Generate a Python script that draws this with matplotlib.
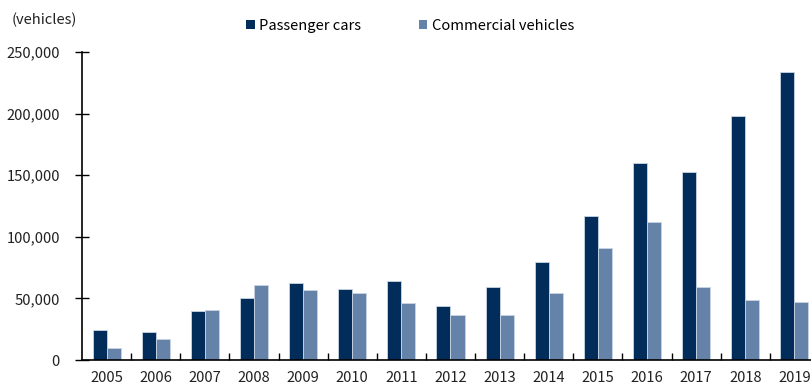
import matplotlib
matplotlib.use("Agg")
import matplotlib.pyplot as plt
import numpy as np
from matplotlib.patches import Patch
from matplotlib.ticker import FuncFormatter, MultipleLocator

years = ["2005", "2006", "2007", "2008", "2009", "2010", "2011", "2012",
         "2013", "2014", "2015", "2016", "2017", "2018", "2019"]
passenger_cars = [24600, 23000, 39800, 50600, 62500, 57600, 64400, 43800,
                  59600, 79500, 117000, 159800, 153000, 197800, 233500]
commercial_vehicles = [10000, 17300, 40600, 60600, 56500, 54100, 46000, 36300,
                       36500, 54400, 91000, 112000, 59000, 48400, 47300]

dark = "#022c59"
light = "#6582a8"
edge = "#c9d5e4"
fs = 10.6

plt.rcParams["font.family"] = ["Noto Sans CJK JP", "DejaVu Sans"]

fig = plt.figure(figsize=(8.11, 3.87), dpi=100)
ax = fig.add_axes([82 / 811, 27 / 387, 737 / 811, 308 / 387])

x = np.arange(len(years))
w = 0.285
ax.bar(x - w / 2, passenger_cars, w, color=dark, edgecolor=edge, linewidth=0.6)
ax.bar(x + w / 2, commercial_vehicles, w, color=light, edgecolor=edge, linewidth=0.6)

ax.set_xlim(-0.5, len(years) - 0.5)
ax.set_ylim(0, 250000)
ax.yaxis.set_major_locator(MultipleLocator(50000))
ax.yaxis.set_major_formatter(FuncFormatter(lambda v, p: f"{int(v):,}"))

# year labels at bar groups, tick marks between groups
ax.set_xticks(x)
ax.set_xticklabels(years)
ax.set_xticks(np.arange(0.5, len(years) - 0.5, 1), minor=True)
ax.tick_params(axis="x", which="major", length=0, pad=8, labelsize=fs, labelcolor="#222222")
ax.tick_params(axis="x", which="minor", length=5, direction="in", width=1)
ax.tick_params(axis="y", length=10, direction="inout", width=1, pad=11,
               labelsize=fs, labelcolor="#222222")

for s in ("top", "right"):
    ax.spines[s].set_visible(False)
for s in ("left", "bottom"):
    ax.spines[s].set_linewidth(1.2)

fig.text(12 / 811, 1 - 20 / 387, "(vehicles)", fontsize=fs, va="center", color="#222222")

handles = [Patch(facecolor=dark, label="Passenger cars"),
           Patch(facecolor=light, label="Commercial vehicles")]
fig.legend(handles=handles, loc="center left", bbox_to_anchor=(246 / 811, 1 - 26 / 387),
           ncol=2, frameon=False, fontsize=fs, handlelength=0.6, handleheight=0.6,
           handletextpad=0.3, columnspacing=3.9, borderaxespad=0, borderpad=0)

fig.savefig("out.png", dpi=100)
